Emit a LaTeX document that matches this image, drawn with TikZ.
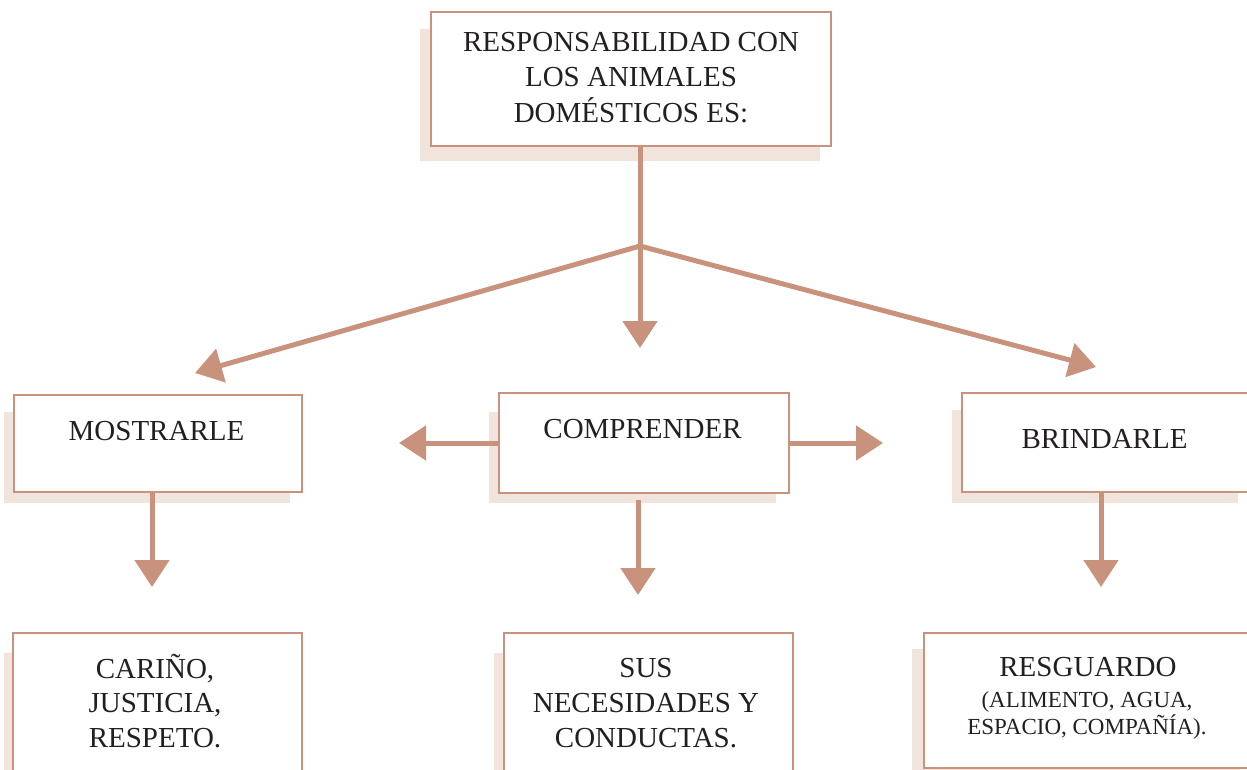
\documentclass[tikz,border=0pt]{standalone}
\usepackage{fontspec}
\setmainfont{Liberation Serif}
\usetikzlibrary{arrows.meta}
\definecolor{lc}{RGB}{200,146,124}
\definecolor{sh}{RGB}{241,228,221}
\definecolor{tx}{RGB}{35,31,32}
\tikzset{
  box/.style={draw=lc, line width=2.8pt, fill=white, rectangle, inner sep=0pt, outer sep=0pt},
  shad/.style={fill=sh},
  txt/.style={text=tx, font=\fontsize{29}{36}\selectfont, align=center, inner sep=0pt, anchor=base},
  conn/.style={draw=lc, line width=5pt},
  arr/.style={conn, -{Triangle[length=27pt,width=34pt]}, lc}
}
\begin{document}
\begin{tikzpicture}[x=1pt,y=-1pt]
\useasboundingbox (0,0) rectangle (1247,769);
\clip (0,0) rectangle (1247,769);
% shadows
\fill[shad] (420,29) rectangle (820,161);
\fill[shad] (4,412) rectangle (290,503);
\fill[shad] (489,412) rectangle (776,503);
\fill[shad] (952,410) rectangle (1238,503);
\fill[shad] (4,653) rectangle (290,790);
\fill[shad] (494,653) rectangle (781,790);
\fill[shad] (912,649) rectangle (1240,790);
% boxes
\node[box, minimum width=400pt, minimum height=134pt] (top) at (631,79) {};
\node[box, minimum width=288pt, minimum height=97pt] (most) at (158,443.5) {};
\node[box, minimum width=290pt, minimum height=100pt] (comp) at (644,443) {};
\node[box, minimum width=298pt, minimum height=99pt] (brin) at (1111,442.5) {};
\node[box, minimum width=289pt, minimum height=157pt] (cari) at (157.5,711.5) {};
\node[box, minimum width=289pt, minimum height=157pt] (sus) at (648.5,711.5) {};
\node[box, minimum width=336pt, minimum height=135pt] (resg) at (1092,700.5) {};
% texts (anchor=base is the baseline of the last line)
\node[txt, font=\fontsize{29}{35.5}\selectfont] (toptx) at (631,122) {RESPONSABILIDAD CON\\LOS ANIMALES\\DOMÉSTICOS ES:};
\node[txt] (mosttx) at (156.5,440) {MOSTRARLE};
\node[txt] (comptx) at (642.5,438) {COMPRENDER};
\node[txt] (brintx) at (1104.5,448) {BRINDARLE};
\node[txt, font=\fontsize{29}{34.5}\selectfont] (caritx) at (155,747) {CARIÑO,\\JUSTICIA,\\RESPETO.};
\node[txt, font=\fontsize{29}{35}\selectfont] (sustx) at (646,747) {SUS\\NECESIDADES Y\\CONDUCTAS.};
\node[txt] (resgtx) at (1088,676) {RESGUARDO};
\node[txt, font=\fontsize{23}{27}\selectfont] (resgsub) at (1087,734) {(ALIMENTO, AGUA,\\ESPACIO, COMPAÑÍA).};
% coordinates
\coordinate (J) at (640,246);
\coordinate (tipL) at (195,373);
\coordinate (tipM) at (640,348);
\coordinate (tipR) at (1096,367);
\coordinate (mostT) at (152,587);
\coordinate (compT) at (638,595);
\coordinate (brinT) at (1101,587);
\coordinate (compL) at (399,443);
\coordinate (compR) at (883,443);
% connectors
\draw[conn] (top.south -| J) -- (J);
\draw[arr] (J) -- (tipL);
\draw[arr] (J) -- (tipM);
\draw[arr] (J) -- (tipR);
\draw[arr] (most.south -| mostT) -- (mostT);
\draw[arr] ([yshift=-7pt]comp.south -| compT) -- (compT);
\draw[arr] (brin.south -| brinT) -- (brinT);
\draw[arr] (comp.west |- compL) -- (compL);
\draw[arr] (comp.east |- compR) -- (compR);
\end{tikzpicture}
\end{document}
